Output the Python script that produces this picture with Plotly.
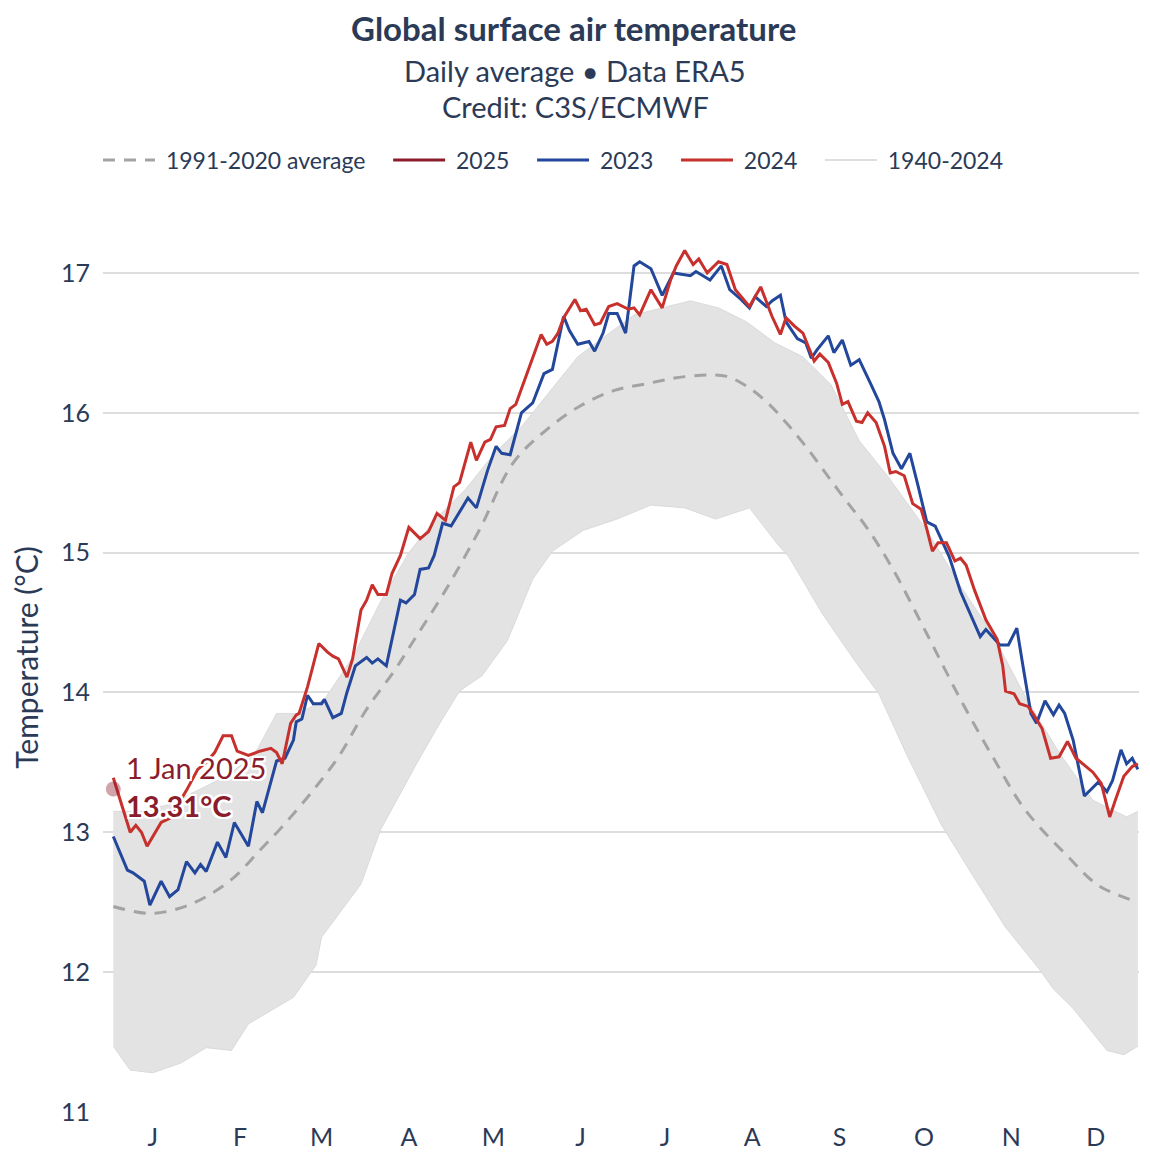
import plotly.graph_objects as go

# ---------------- data (day of year, 0 = 1 Jan) ----------------
days_2023 = [0, 5, 7, 11, 13, 17, 20, 23, 26, 29, 31, 33, 37, 40, 43, 48, 51, 53, 58, 61,
             64, 65, 67, 69, 71, 74, 75, 78, 81, 83, 86, 90, 92, 94, 97, 102, 104, 107, 109, 112,
             114, 117, 120, 124, 126, 129, 133, 136, 138, 141, 145, 149, 153, 156, 159, 160, 162, 165, 169, 171,
             174, 176, 179, 182, 185, 187, 191, 195, 199, 205, 207, 212, 216, 219, 223, 226, 228, 232, 234, 237,
             239, 243, 246, 248, 250, 254, 256, 259, 262, 265, 269, 272, 274, 277, 280, 283, 286, 289, 292, 297,
             301, 305, 308, 310, 315, 318, 321, 323, 326, 328, 331, 334, 336, 338, 341, 345, 350, 353, 355, 358,
             360, 362, 364]
temp_2023 = [12.97, 12.73, 12.71, 12.65, 12.48, 12.65, 12.54, 12.59, 12.79, 12.71, 12.77, 12.72, 12.93, 12.82, 13.07, 12.90, 13.22, 13.14, 13.51, 13.53,
             13.66, 13.79, 13.81, 13.98, 13.92, 13.92, 13.95, 13.82, 13.85, 14.00, 14.19, 14.25, 14.21, 14.24, 14.19, 14.66, 14.64, 14.70, 14.88, 14.89,
             14.98, 15.21, 15.19, 15.33, 15.39, 15.32, 15.59, 15.76, 15.71, 15.70, 16.00, 16.07, 16.28, 16.31, 16.59, 16.69, 16.59, 16.49, 16.51, 16.44,
             16.57, 16.71, 16.71, 16.57, 17.05, 17.08, 17.03, 16.84, 17.00, 16.98, 17.01, 16.95, 17.05, 16.88, 16.81, 16.75, 16.83, 16.76, 16.80, 16.84,
             16.65, 16.53, 16.50, 16.39, 16.45, 16.55, 16.43, 16.52, 16.34, 16.38, 16.21, 16.08, 15.95, 15.71, 15.60, 15.71, 15.47, 15.22, 15.19, 14.97,
             14.72, 14.54, 14.40, 14.45, 14.34, 14.34, 14.46, 14.21, 13.85, 13.78, 13.94, 13.84, 13.91, 13.85, 13.66, 13.26, 13.36, 13.29, 13.37, 13.59,
             13.49, 13.53, 13.45]

days_2024 = [0, 2, 4, 6, 8, 10, 12, 17, 20, 23, 26, 30, 33, 36, 39, 42, 44, 48, 52, 56,
             58, 60, 63, 65, 66, 69, 73, 76, 78, 80, 83, 85, 88, 90, 92, 94, 97, 99, 102, 105,
             109, 112, 115, 118, 121, 123, 127, 129, 132, 134, 136, 139, 141, 143, 148, 152, 154, 156, 158, 160,
             164, 166, 168, 171, 173, 176, 179, 183, 185, 187, 191, 195, 198, 200, 203, 206, 208, 211, 215, 218,
             221, 226, 230, 234, 237, 239, 242, 245, 249, 251, 254, 257, 259, 261, 264, 266, 268, 271, 274, 276,
             278, 281, 284, 287, 289, 291, 293, 296, 299, 301, 303, 306, 310, 312, 314, 316, 317, 320, 322, 325,
             327, 330, 333, 336, 339, 342, 346, 348, 351, 354, 356, 359, 362, 364]
temp_2024 = [13.39, 13.26, 13.14, 13.00, 13.05, 13.00, 12.90, 13.07, 13.10, 13.20, 13.30, 13.45, 13.50, 13.57, 13.69, 13.69, 13.58, 13.55, 13.58, 13.60,
             13.57, 13.49, 13.78, 13.84, 13.85, 14.04, 14.35, 14.29, 14.26, 14.24, 14.11, 14.24, 14.59, 14.66, 14.77, 14.70, 14.70, 14.85, 14.98, 15.18,
             15.10, 15.15, 15.28, 15.23, 15.47, 15.50, 15.79, 15.66, 15.79, 15.81, 15.90, 15.91, 16.03, 16.06, 16.34, 16.56, 16.49, 16.51, 16.57, 16.68,
             16.81, 16.73, 16.74, 16.63, 16.64, 16.76, 16.78, 16.74, 16.75, 16.70, 16.88, 16.75, 16.95, 17.05, 17.16, 17.06, 17.10, 17.00, 17.08, 17.06,
             16.88, 16.76, 16.90, 16.69, 16.56, 16.68, 16.62, 16.57, 16.37, 16.42, 16.36, 16.21, 16.06, 16.08, 15.94, 15.93, 16.00, 15.93, 15.76, 15.57,
             15.58, 15.55, 15.35, 15.31, 15.17, 15.01, 15.07, 15.07, 14.94, 14.96, 14.91, 14.73, 14.52, 14.45, 14.38, 14.19, 14.01, 13.99, 13.92, 13.90,
             13.84, 13.74, 13.53, 13.54, 13.65, 13.53, 13.46, 13.43, 13.35, 13.11, 13.23, 13.40, 13.47, 13.49]

days_2025 = [0]
temp_2025 = [13.31]

days_avg = [0, 13, 24, 33, 43, 52, 60, 71, 80, 90, 100, 107, 118, 130, 142, 154, 166, 178, 190, 200,
            211, 218, 225, 232, 239, 246, 253, 260, 268, 277, 289, 301, 313, 324, 339, 350, 364]
temp_avg = [12.47, 12.42, 12.46, 12.54, 12.68, 12.87, 13.04, 13.30, 13.54, 13.88, 14.16, 14.38, 14.73, 15.16, 15.64, 15.88, 16.05, 16.16, 16.21, 16.25,
            16.27, 16.26, 16.19, 16.08, 15.93, 15.76, 15.57, 15.38, 15.17, 14.88, 14.42, 13.95, 13.52, 13.16, 12.83, 12.62, 12.50]

# envelope of the 1940-2024 daily curves
days_low = [0, 6, 14, 24, 33, 42, 48, 58, 64, 72, 74, 88, 95, 108, 116, 123, 131, 140, 149, 156,
            167, 179, 191, 203, 214, 226, 236, 240, 252, 264, 272, 282, 294, 306, 317, 329, 334, 341, 353, 359, 364]
temp_low = [11.47, 11.30, 11.28, 11.35, 11.46, 11.44, 11.63, 11.75, 11.82, 12.05, 12.25, 12.63, 13.02, 13.50, 13.78, 14.01, 14.12, 14.37, 14.81, 15.01,
            15.16, 15.24, 15.34, 15.32, 15.24, 15.32, 15.06, 14.97, 14.56, 14.21, 13.99, 13.55, 13.06, 12.67, 12.32, 12.02, 11.88, 11.74, 11.44, 11.41, 11.47]
days_high = [0, 10, 20, 30, 40, 50, 58, 66, 75, 85, 95, 105, 115, 125, 135, 145, 155, 165, 175, 185,
             195, 205, 215, 225, 235, 245, 255, 265, 275, 289, 301, 312, 324, 336, 348, 360, 364]
temp_high = [13.15, 13.15, 13.20, 13.30, 13.40, 13.55, 13.85, 13.85, 13.95, 14.25, 14.65, 15.00, 15.25, 15.45, 15.70, 15.90, 16.15, 16.40, 16.55, 16.70,
             16.75, 16.80, 16.75, 16.65, 16.50, 16.40, 16.20, 15.80, 15.55, 15.16, 14.76, 14.43, 13.97, 13.57, 13.23, 13.11, 13.15]

month_ticks = [14, 45, 74, 105, 135, 166, 196, 227, 258, 288, 319, 349]
month_labels = ["J", "F", "M", "A", "M", "J", "J", "A", "S", "O", "N", "D"]
y_ticks = [11, 12, 13, 14, 15, 16, 17]

# ---------------- style ----------------
FONT = "Lato, 'Open Sans', sans-serif"
TXT = "#2b3a56"
C_2023 = "#23479a"
C_2024 = "#c7302c"
C_2025 = "#8b1c2c"
C_AVG = "#a3a3a3"
C_HIST = "#dedede"
NB = "\u00a0"

# page has an 8px body margin: work in reference pixels, shift by -8
OFF = 8
W, H = 1150 - OFF, 1162 - OFF
PT, PB, PL, PR = 203 - OFF, 1112 - OFF, 103 - OFF, 1139 - OFF


def py(p):
    return (PB - (p - OFF)) / (PB - PT)


def px(p):
    return ((p - OFF) - PL) / (PR - PL)


fig = go.Figure()

# historical envelope
fig.add_trace(go.Scatter(x=days_low, y=temp_low, mode="lines",
                         line=dict(color="#dadada", width=1), showlegend=False, hoverinfo="skip"))
fig.add_trace(go.Scatter(x=days_high, y=temp_high, mode="lines", fill="tonexty",
                         fillcolor="#e3e3e3", line=dict(color="#dadada", width=1),
                         showlegend=False, hoverinfo="skip"))
# legend entry for the historical curves
fig.add_trace(go.Scatter(x=[None], y=[None], mode="lines", name=NB + "1940-2024",
                         line=dict(color=C_HIST, width=2), legendrank=5))

fig.add_trace(go.Scatter(x=days_avg, y=temp_avg, mode="lines", name=NB + "1991-2020 average" + NB * 3,
                         line=dict(color=C_AVG, width=3, dash="12px,9px", shape="spline"),
                         legendrank=1))
fig.add_trace(go.Scatter(x=days_2023, y=temp_2023, mode="lines", name=NB + "2023" + NB * 3,
                         line=dict(color=C_2023, width=3), legendrank=3))
fig.add_trace(go.Scatter(x=days_2024, y=temp_2024, mode="lines", name=NB + "2024" + NB * 3,
                         line=dict(color=C_2024, width=3), legendrank=4))
fig.add_trace(go.Scatter(x=days_2025, y=temp_2025, mode="lines", name=NB + "2025" + NB * 3,
                         line=dict(color=C_2025, width=3), legendrank=2))
fig.add_trace(go.Scatter(x=days_2025, y=temp_2025, mode="markers", showlegend=False,
                         marker=dict(color=C_2025, size=15, opacity=0.4, line=dict(width=0))))

halo = ("white 2px 0px 0px, white -2px 0px 0px, white 0px 2px 0px, white 0px -2px 0px, "
        "white 2px 2px 0px, white -2px -2px 0px, white 2px -2px 0px, white -2px 2px 0px")
fig.add_annotation(x=days_2025[0], y=temp_2025[0], xref="x", yref="y",
                   text=f"1 Jan 2025<br><b>{temp_2025[0]:.2f}°C</b>",
                   showarrow=False, xanchor="left", yanchor="middle", align="left",
                   xshift=11, yshift=2,
                   font=dict(family=FONT, size=29, color=C_2025, shadow=halo))

fig.add_annotation(x=px(573), y=py(28), xref="paper", yref="paper", showarrow=False,
                   text="<b>Global surface air temperature</b>", xanchor="center", yanchor="middle",
                   font=dict(family=FONT, size=33, color=TXT))
fig.add_annotation(x=px(575), y=py(70), xref="paper", yref="paper", showarrow=False,
                   text="Daily average • Data ERA5", xanchor="center", yanchor="middle",
                   font=dict(family=FONT, size=29, color=TXT))
fig.add_annotation(x=px(575), y=py(106), xref="paper", yref="paper", showarrow=False,
                   text="Credit: C3S/ECMWF", xanchor="center", yanchor="middle",
                   font=dict(family=FONT, size=29, color=TXT))

fig.update_layout(
    width=W, height=H,
    margin=dict(l=PL, r=W - PR, t=PT, b=H - PB),
    paper_bgcolor="white", plot_bgcolor="white",
    font=dict(family=FONT, color=TXT),
    showlegend=True,
    legend=dict(orientation="h", x=px(98), xanchor="left", y=py(160), yanchor="middle",
                font=dict(family=FONT, size=23, color=TXT), itemwidth=52,
                traceorder="normal", bgcolor="rgba(0,0,0,0)"),
    xaxis=dict(range=[-3.66, 364.4], tickmode="array", tickvals=month_ticks, ticktext=month_labels,
               showgrid=False, zeroline=False, showline=False, ticks="",
               tickfont=dict(family=FONT, size=25, color=TXT), ticklabelstandoff=8),
    yaxis=dict(range=[11, 17.5], tickmode="array", tickvals=y_ticks,
               showgrid=True, gridcolor="#dddddd", gridwidth=1.5, zeroline=False, showline=False,
               ticks="", tickfont=dict(family=FONT, size=25, color=TXT), ticklabelstandoff=12,
               title=dict(text="Temperature (°C)", font=dict(family=FONT, size=30, color=TXT), standoff=14)),
)

fig.write_html("out.html")
